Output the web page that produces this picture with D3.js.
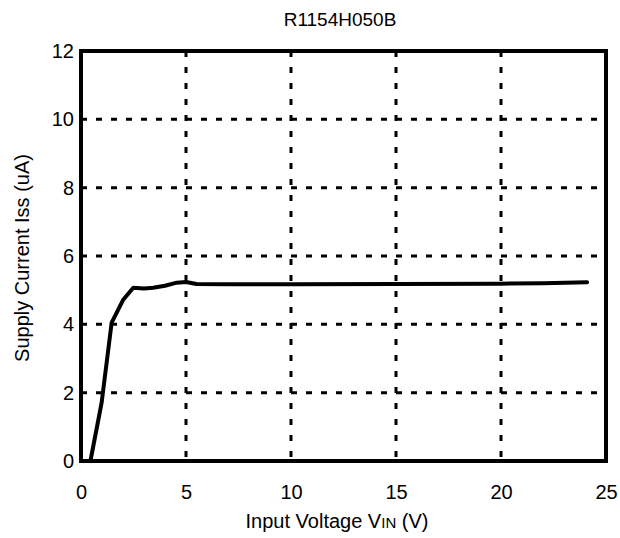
<!DOCTYPE html>
<html><head><meta charset="utf-8">
<script src="https://cdn.jsdelivr.net/npm/d3@7"></script>
<style>body{margin:0;background:#fff}text{font-family:"Liberation Sans",Arial,sans-serif;fill:#000}</style>
</head><body>
<svg id="c" width="620" height="538"></svg>
<script>
const title = "R1154H050B";
const vin = [0, 0.45, 0.98, 1.46, 2.0, 2.49, 3.0, 3.44, 4.0, 4.56, 5.0, 5.5, 7, 10, 15, 20, 22, 24.1];
const iss = [0, 0, 1.7, 4.05, 4.71, 5.07, 5.05, 5.07, 5.13, 5.22, 5.24, 5.18, 5.17, 5.17, 5.18, 5.19, 5.2, 5.23];
const xTicks = [0, 5, 10, 15, 20, 25];
const yTicks = [0, 2, 4, 6, 8, 10, 12];

const svg = d3.select("#c");
const L = 81, R = 606, T = 51, B = 461;
const x = d3.scaleLinear().domain([0, 25]).range([L, R]);
const y = d3.scaleLinear().domain([0, 12]).range([B, T]);
const FS = 20;

// grid
svg.append("g").selectAll("line").data(xTicks.slice(1, -1)).join("line")
  .attr("x1", d => x(d)).attr("x2", d => x(d)).attr("y1", T).attr("y2", B)
  .attr("stroke", "#000").attr("stroke-width", 3).attr("stroke-dasharray", "6,10");
svg.append("g").selectAll("line").data(yTicks.slice(1, -1)).join("line")
  .attr("y1", d => y(d)).attr("y2", d => y(d)).attr("x1", L).attr("x2", R)
  .attr("stroke", "#000").attr("stroke-width", 3).attr("stroke-dasharray", "6,9");

// axes labels via d3 axes
const xa = svg.append("g").attr("transform", `translate(0,${B})`)
  .call(d3.axisBottom(x).tickValues(xTicks).tickSize(0).tickPadding(24));
const ya = svg.append("g").attr("transform", `translate(${L},0)`)
  .call(d3.axisLeft(y).tickValues(yTicks).tickSize(0).tickPadding(7));
[xa, ya].forEach(a => { a.select(".domain").remove(); a.selectAll("text").attr("font-size", FS).attr("font-family", '"Liberation Sans",Arial,sans-serif'); });

// curve
svg.append("path").datum(vin.map((v, i) => [v, iss[i]]))
  .attr("d", d3.line().x(d => x(d[0])).y(d => y(d[1])))
  .attr("fill", "none").attr("stroke", "#000").attr("stroke-width", 4)
  .attr("stroke-linejoin", "round").attr("stroke-linecap", "round");

// frame
svg.append("rect").attr("x", L).attr("y", T).attr("width", R - L).attr("height", B - T)
  .attr("fill", "none").attr("stroke", "#000").attr("stroke-width", 4);

// titles
svg.append("text").attr("x", 340).attr("y", 26).attr("text-anchor", "middle")
  .attr("font-size", 19).text(title);
const xt = svg.append("text").attr("x", 337).attr("y", 528).attr("text-anchor", "middle").attr("font-size", FS);
xt.append("tspan").text("Input Voltage V");
xt.append("tspan").attr("font-size", 15).text("IN");
xt.append("tspan").text(" (V)");
svg.append("text").attr("transform", `translate(29,${(T + B) / 2 + 2}) rotate(-90)`)
  .attr("text-anchor", "middle").attr("font-size", FS).text("Supply Current Iss (uA)");
</script>
</body></html>
